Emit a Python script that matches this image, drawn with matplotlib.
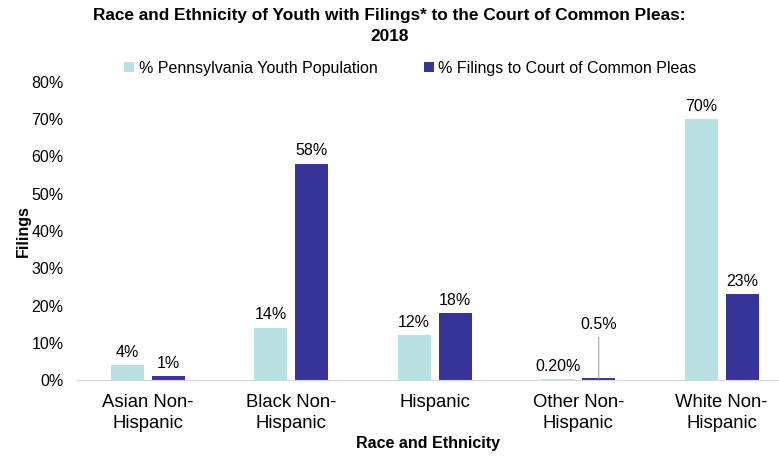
import numpy as np
import matplotlib.pyplot as plt
from matplotlib.ticker import PercentFormatter

plt.rcParams['font.family'] = ['Liberation Sans', 'DejaVu Sans']

categories = ['Asian Non-\nHispanic', 'Black Non-\nHispanic', 'Hispanic',
              'Other Non-\nHispanic', 'White Non-\nHispanic']
pa_youth = [4, 14, 12, 0.2, 70]
filings = [1, 58, 18, 0.5, 23]
pa_labels = ['4%', '14%', '12%', '0.20%', '70%']
filing_labels = ['1%', '58%', '18%', '0.5%', '23%']

light = '#b9e0e3'
dark = '#383598'

fig = plt.figure(figsize=(7.79, 4.57), dpi=100)
ax = fig.add_axes([0.0976, 0.168, 0.9024, 0.653])

x = np.arange(len(categories))
w = 0.23
off = 0.143
b1 = ax.bar(x - off, pa_youth, w, color=light, label='% Pennsylvania Youth Population')
b2 = ax.bar(x + off, filings, w, color=dark, label='% Filings to Court of Common Pleas')

for rect, lab in zip(b1, pa_labels):
    ax.annotate(lab, (rect.get_x() + rect.get_width() / 2, rect.get_height()),
                xytext=(0, 4), textcoords='offset points', ha='center', va='bottom', fontsize=11.5)
for i, (rect, lab) in enumerate(zip(b2, filing_labels)):
    cx = rect.get_x() + rect.get_width() / 2
    if i == 3:
        # small bar: label lifted with a leader line
        ax.annotate(lab, (cx, rect.get_height()), xytext=(cx, 13), textcoords='data',
                    ha='center', va='bottom', fontsize=11.5,
                    arrowprops=dict(arrowstyle='-', color='#a6a6a6', lw=0.8,
                                    shrinkA=2, shrinkB=0))
    else:
        ax.annotate(lab, (cx, rect.get_height()),
                    xytext=(0, 4), textcoords='offset points', ha='center', va='bottom', fontsize=11.5)

ax.set_xlim(-0.5, 4.399)
ax.set_ylim(0, 80)
ax.set_yticks(range(0, 81, 10))
ax.yaxis.set_major_formatter(PercentFormatter(decimals=0))
ax.set_xticks(x)
ax.set_xticklabels(categories, fontsize=13.3, linespacing=1.3)
ax.tick_params(axis='y', length=0, labelsize=11.5, pad=9)
ax.tick_params(axis='x', length=0, pad=10)
for s in ['top', 'right', 'left']:
    ax.spines[s].set_visible(False)
ax.spines['bottom'].set_color('#d9d9d9')

ax.set_xlabel('Race and Ethnicity', fontsize=11.5, fontweight='bold', labelpad=3)
ax.set_ylabel('Filings', fontsize=11.5, fontweight='bold', labelpad=0)

fig.suptitle('Race and Ethnicity of Youth with Filings* to the Court of Common Pleas:\n2018',
             fontsize=12.4, fontweight='bold', y=0.983, linespacing=1.5)
fig.legend(loc='center', bbox_to_anchor=(0.527, 0.851), ncol=2, frameon=False,
           fontsize=11.5, handlelength=0.6, handleheight=0.6, handletextpad=0.3,
           columnspacing=2.9)

plt.savefig('out.png', dpi=100)
